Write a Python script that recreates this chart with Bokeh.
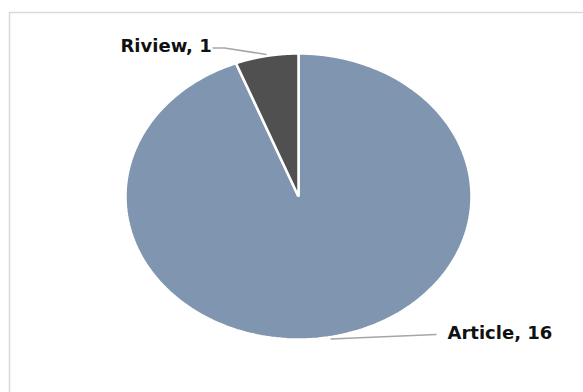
import numpy as np
from bokeh.plotting import figure
from bokeh.models import Range1d, ColumnDataSource
from bokeh.core.properties import value
from bokeh.embed import file_html
from bokeh.resources import INLINE

# ---- data ----
categories = ["Article", "Riview"]
counts = [16, 1]
colors = ["#8096B0", "#505050"]

# ---- layout (pixel space) ----
W, H = 583, 392
cx, cy = 298, 196
rx, ry = 173, 143

p = figure(width=W, height=H, output_backend="svg", toolbar_location=None,
           x_range=Range1d(0, W), y_range=Range1d(H, 0), min_border=0)
p.axis.visible = False
p.grid.visible = False
p.outline_line_color = None
p.background_fill_color = "white"
p.border_fill_color = "white"

# chart area border
p.quad(left=[9], right=[W + 20], top=[12], bottom=[H + 20],
       fill_color=None, line_color="#D9D9D9", line_width=1.5)

# slices: clockwise from 12 o'clock
total = sum(counts)
xs, ys = [], []
start = np.pi / 2
for c in counts:
    sweep = 2 * np.pi * c / total
    t = np.linspace(start, start - sweep, 200)
    xs.append([cx] + list(cx + rx * np.cos(t)) + [cx])
    ys.append([cy] + list(cy - ry * np.sin(t)) + [cy])
    start -= sweep

p.patches(xs, ys, fill_color=colors, line_color="white", line_width=2.5)

# leader lines
p.line([212, 224, 266], [47.5, 47.5, 54], line_color="#A6A6A6", line_width=1.5)
p.line([330, 436], [338.5, 334], line_color="#A6A6A6", line_width=1.5)

labels = [f"{c}, {v}" for c, v in zip(categories, counts)]
src = ColumnDataSource(dict(x=[447, 120], y=[332, 44.5], t=labels))
p.text(x="x", y="y", text="t", source=src, text_font=value("DejaVu Sans"),
       text_font_style="bold", text_font_size="18px", text_color="#111111",
       text_baseline="alphabetic", text_align="left")

open("out.html", "w").write(file_html(p, INLINE))
